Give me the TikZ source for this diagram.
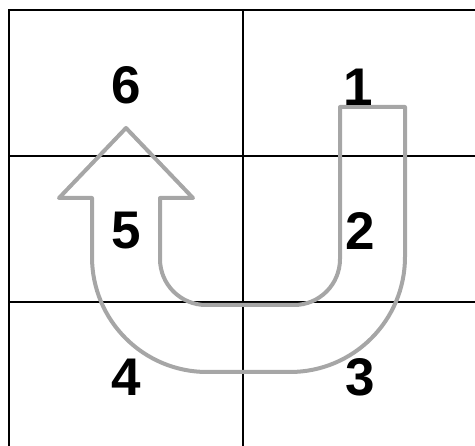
\documentclass[tikz,border=0pt]{standalone}
\usepackage{fontspec}
\setmainfont{Liberation Sans}
\begin{document}
\begin{tikzpicture}[x=1pt,y=-1pt,
  gridline/.style={draw=black,line width=2pt},
  arrowline/.style={draw={rgb,255:red,166;green,166;blue,166},line width=4pt,line join=round},
  num/.style={font=\fontsize{53}{53}\selectfont\bfseries,inner sep=0pt,anchor=center}]
\useasboundingbox (0,0) rectangle (475,446);
% grid
\draw[gridline] (9,446) -- (9,10) -- (475,10);
\draw[gridline] (243,10) -- (243,446);
\draw[gridline] (9,156) -- (475,156);
\draw[gridline] (9,302) -- (475,302);
% U-turn arrow
\draw[arrowline] (340,107) -- (405,107) -- (405,257)
  arc[start angle=0,end angle=90,radius=115] -- (207,372)
  arc[start angle=90,end angle=180,radius=115] -- (92,198)
  -- (59,198) -- (126,128) -- (193,198) -- (160,198) -- (160,259)
  arc[start angle=180,end angle=90,radius=46] -- (294,305)
  arc[start angle=90,end angle=0,radius=46] -- cycle;
% labels
\node[num] (n6) at (126,85) {6};
\node[num] (n1) at (358,87) {1};
\node[num] (n5) at (126,231) {5};
\node[num] (n2) at (360,231) {2};
\node[num] (n4) at (126,377) {4};
\node[num] (n3) at (360,377) {3};
\end{tikzpicture}
\end{document}
